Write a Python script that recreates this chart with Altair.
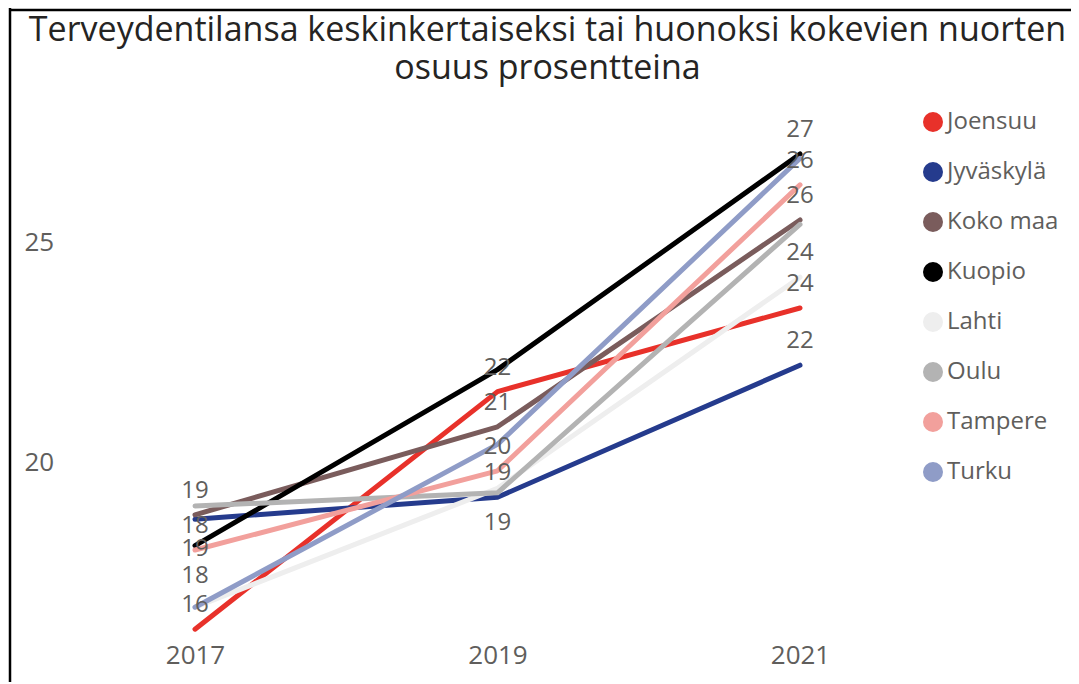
import altair as alt
import pandas as pd

# ---- data ----
YEARS = [2017, 2019, 2021]
SERIES = ["Joensuu", "Jyväskylä", "Koko maa", "Kuopio", "Lahti", "Oulu", "Tampere", "Turku"]
COLORS = ["#E8312A", "#253B8D", "#7A5C5C", "#000000", "#EEEEEE", "#B3B3B3", "#F2A09C", "#8F9CC7"]

JOENSUU = [16.2, 21.6, 23.5]
JYVASKYLA = [18.7, 19.2, 22.2]
KOKO_MAA = [18.8, 20.8, 25.5]
KUOPIO = [18.1, 22.1, 27.0]
LAHTI = [16.7, 19.4, 24.2]
OULU = [19.0, 19.3, 25.4]
TAMPERE = [18.0, 19.8, 26.3]
TURKU = [16.7, 20.4, 26.9]

VALUES = [JOENSUU, JYVASKYLA, KOKO_MAA, KUOPIO, LAHTI, OULU, TAMPERE, TURKU]

# which data labels are visible (series, placement) per year
LABELS_2017 = [("Koko maa", "above"), ("Tampere", "above"), ("Jyväskylä", "below"),
               ("Kuopio", "below"), ("Joensuu", "above")]
LABELS_2019 = [("Joensuu", "above"), ("Koko maa", "above"), ("Tampere", "above"),
               ("Jyväskylä", "above"), ("Oulu", "below")]
LABELS_2021 = [("Kuopio", "above"), ("Tampere", "above"), ("Koko maa", "above"),
               ("Lahti", "above"), ("Joensuu", "above"), ("Jyväskylä", "above")]

TITLE = ["Terveydentilansa keskinkertaiseksi tai huonoksi kokevien nuorten",
         "osuus prosentteina"]

# ---- tables ----
rows = []
for s, vals in zip(SERIES, VALUES):
    for y, v in zip(YEARS, vals):
        rows.append({"Alue": s, "Vuosi": y, "Arvo": v})
df = pd.DataFrame(rows)

lab_rows = []
for year, labs in zip(YEARS, [LABELS_2017, LABELS_2019, LABELS_2021]):
    for s, place in labs:
        v = VALUES[SERIES.index(s)][YEARS.index(year)]
        lab_rows.append({"Alue": s, "Vuosi": year, "Arvo": v, "place": place})
ldf = pd.DataFrame(lab_rows)

FONT = "Open Sans"
GRAY = "#605E5C"

x_enc = alt.X("Vuosi:Q",
              scale=alt.Scale(domain=[2017, 2021], nice=False, zero=False),
              axis=alt.Axis(values=YEARS, format="d", title=None, grid=False, domain=False,
                            ticks=False, labelFontSize=26, labelColor=GRAY, labelFont=FONT,
                            labelPadding=4, labelFlush=False))
y_enc = alt.Y("Arvo:Q",
              scale=alt.Scale(domain=[16, 28], nice=False, zero=False),
              axis=alt.Axis(values=[20, 25], title=None, grid=False, domain=False, ticks=False,
                            labelFontSize=26, labelColor=GRAY, labelFont=FONT,
                            labelAlign="left", labelPadding=171))

lines = alt.Chart(df).mark_line(strokeWidth=5, strokeCap="round", strokeJoin="round").encode(
    x=x_enc,
    y=y_enc,
    color=alt.Color("Alue:N",
                    scale=alt.Scale(domain=SERIES, range=COLORS),
                    sort=SERIES,
                    legend=alt.Legend(title=None, orient="none", legendX=726, legendY=0,
                                      symbolType="circle", symbolSize=100, symbolStrokeWidth=10,
                                      symbolOpacity=1,
                                      labelFontSize=24, labelColor=GRAY, labelFont=FONT,
                                      labelOffset=2, rowPadding=0, padding=0)),
    order=alt.Order("Vuosi:Q"),
)

def label_layer(place, dy):
    return alt.Chart(ldf).transform_filter(alt.datum.place == place).transform_calculate(
        txt="format(datum.Arvo, '.0f')"
    ).mark_text(dy=dy, fontSize=24, color=GRAY, font=FONT, align="center",
                baseline="middle").encode(
        x=alt.X("Vuosi:Q"), y=alt.Y("Arvo:Q"), text="txt:N")

border_df = pd.DataFrame({"k": [0]})
left_border = alt.Chart(border_df).mark_rule(color="black", strokeWidth=2.5).encode(
    x=alt.value(-185), y=alt.value(-110), y2=alt.value(590))
top_border = alt.Chart(border_df).mark_rule(color="black", strokeWidth=2.5).encode(
    x=alt.value(-186), x2=alt.value(877), y=alt.value(-100))

chart = alt.layer(
    lines, label_layer("above", -24), label_layer("below", 30), left_border, top_border
).properties(
    width=605, height=528,
    background="white",
    title=alt.TitleParams(text=TITLE, fontSize=34, font=FONT, color="#252423",
                          fontWeight="normal", anchor="middle", dx=50, offset=0, dy=87,
                          lineHeight=38),
    autosize=alt.AutoSizeParams(type="none"),
    padding={"left": 187, "top": 102, "right": 271, "bottom": 44},
).configure_view(stroke=None)

chart.save("out.html", embed_options={"renderer": "svg", "actions": False})
